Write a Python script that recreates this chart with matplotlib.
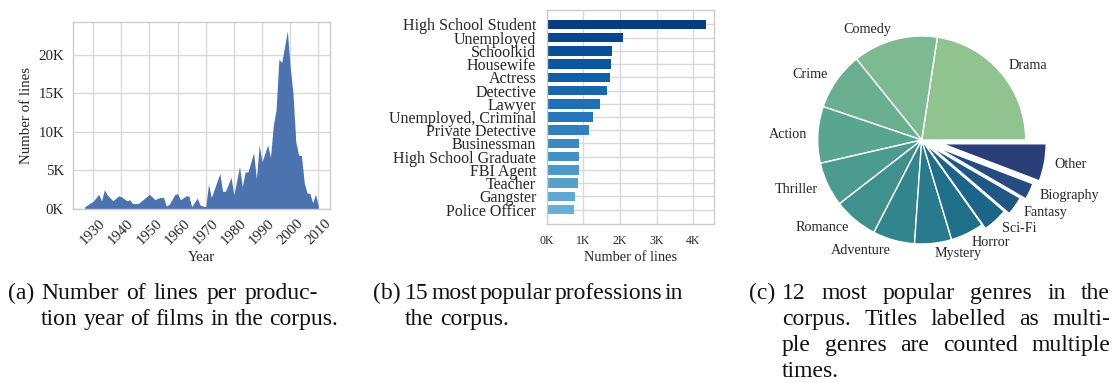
import numpy as np
import matplotlib
matplotlib.use("Agg")
import matplotlib.pyplot as plt
from matplotlib.ticker import FuncFormatter
import seaborn as sns

W, H = 1118, 383

# ---------------- data ----------------
years = [1927, 1930, 1932, 1933, 1934, 1935, 1937, 1939, 1940, 1942, 1943, 1944,
         1946, 1947, 1950, 1952, 1953, 1954, 1955, 1956, 1957, 1959, 1960, 1961,
         1963, 1964, 1965, 1967, 1968, 1970, 1971, 1972, 1975, 1976, 1977, 1979,
         1980, 1982, 1983, 1984, 1985, 1987, 1988, 1989, 1990, 1992, 1993, 1994,
         1995, 1996, 1997, 1999, 2000, 2001, 2002, 2003, 2004, 2005, 2006, 2007,
         2008, 2009, 2010]
lines_k = [0.3, 1.0, 1.9, 1.05, 2.5, 1.85, 1.05, 1.7, 1.6, 1.05, 1.2, 0.7,
           0.7, 1.0, 1.9, 1.2, 1.4, 1.5, 1.5, 0.4, 0.6, 1.85, 2.0, 1.2,
           1.7, 1.7, 0.3, 1.4, 0.5, 0.3, 3.2, 1.5, 4.6, 2.3, 2.3, 4.1,
           1.8, 5.5, 2.9, 4.8, 4.8, 7.3, 3.9, 8.3, 6.1, 8.3, 6.7, 10.8,
           12.9, 19.4, 19.0, 23.1, 18.4, 15.0, 8.7, 7.0, 6.9, 3.4, 2.1, 2.0,
           0.8, 1.9, 0.4]
year_ticks = [1930, 1940, 1950, 1960, 1970, 1980, 1990, 2000, 2010]

professions = ["High School Student", "Unemployed", "Schoolkid", "Housewife",
               "Actress", "Detective", "Lawyer", "Unemployed, Criminal",
               "Private Detective", "Businessman", "High School Graduate",
               "FBI Agent", "Teacher", "Gangster", "Police Officer"]
profession_lines_k = [4.35, 2.09, 1.77, 1.74, 1.72, 1.65, 1.45, 1.26,
                      1.16, 0.89, 0.87, 0.87, 0.85, 0.78, 0.75]

genres = ["Drama", "Comedy", "Crime", "Action", "Thriller", "Romance",
          "Adventure", "Mystery", "Horror", "Sci-Fi", "Fantasy", "Biography",
          "Other"]
genre_share = [22.6, 13.2, 9.0, 8.8, 6.9, 6.9, 6.5, 5.75, 5.2, 3.9, 2.9, 2.55, 5.8]
genre_explode = [0, 0, 0, 0, 0, 0, 0, 0, 0, 0.05, 0.10, 0.15, 0.20]

captions = [
    ("(a)", 8, 41, 318, ["Number of lines per produc-",
                         "tion year of films in the corpus."]),
    ("(b)", 373, 405, 683, ["15 most popular professions in",
                            "the corpus."]),
    ("(c)", 749, 782, 1110, ["12 most popular genres in the",
                             "corpus. Titles labelled as multi-",
                             "ple genres are counted multiple",
                             "times."]),
]

# ---------------- style ----------------
TXT = "#262626"
GRID = "#d9d9d9"
plt.rcParams.update({
    "font.family": ["Liberation Serif", "DejaVu Serif"],
    "text.color": TXT,
    "axes.labelcolor": TXT,
    "xtick.color": TXT,
    "ytick.color": TXT,
    "axes.edgecolor": "#cccccc",
    "axes.linewidth": 1.0,
    "grid.color": GRID,
    "grid.linewidth": 1.0,
})

fig = plt.figure(figsize=(W / 100, H / 100), dpi=100)


def px_axes(l, t, r, b):
    return fig.add_axes([l / W, 1 - b / H, (r - l) / W, (b - t) / H])


kfmt = FuncFormatter(lambda v, p: f"{v:.0f}K")

# ---------------- (a) area chart ----------------
ax1 = px_axes(73, 22, 330, 209)
ax1.fill_between(years, lines_k, color="#4c72b0", lw=0)
ax1.set_ylim(bottom=0)
ax1.set_xticks(year_ticks)
ax1.set_yticks([0, 5, 10, 15, 20])
ax1.yaxis.set_major_formatter(kfmt)
ax1.grid(True)
ax1.set_axisbelow(True)
ax1.tick_params(length=0, labelsize=10.7)
ax1.tick_params(axis="y", pad=6.5)
ax1.tick_params(axis="x", pad=5.5)
for lab in ax1.get_xticklabels():
    lab.set_rotation(45)
ax1.set_xlabel("Year", fontsize=10.7, labelpad=3)
ax1.set_ylabel("Number of lines", fontsize=10.7, labelpad=4)

# ---------------- (b) bar chart ----------------
ax2 = px_axes(546.7, 10, 714.3, 224)
n = len(professions)
bar_colors = plt.cm.Blues(np.linspace(0.95, 0.5, n))
ax2.barh(np.arange(n), profession_lines_k, height=0.72, color=bar_colors, lw=0)
ax2.set_yticks(np.arange(n))
ax2.set_yticklabels(professions)
ax2.invert_yaxis()
ax2.set_xticks([0, 1, 2, 3, 4])
ax2.xaxis.set_major_formatter(kfmt)
ax2.grid(True)
ax2.set_axisbelow(True)
ax2.tick_params(length=0)
ax2.tick_params(axis="y", labelsize=11.5, pad=7.5)
ax2.tick_params(axis="x", labelsize=8.5, pad=8)
ax2.set_xlabel("Number of lines", fontsize=10.4, labelpad=3)

# ---------------- (c) pie chart ----------------
R = 104
cx, cy = 921.7, 140
ax3 = px_axes(cx - 1.25 * R, cy - 1.25 * R, cx + 1.25 * R, cy + 1.25 * R)
pie_colors = sns.color_palette("crest", len(genres))
ax3.pie(genre_share, labels=genres, explode=genre_explode, colors=pie_colors,
        startangle=0, counterclock=True, labeldistance=1.1,
        wedgeprops=dict(edgecolor="white", linewidth=1.0),
        textprops=dict(fontsize=10.2, color=TXT))

# ---------------- captions ----------------
renderer = fig.canvas.get_renderer()
CAP_FS = 17
CAP_COLOR = "#111111"
LINE_H = 26
BASE0 = 299


def place_words(words, x0, x1, y, justify):
    objs = [fig.text(0, 1 - y / H, w, fontsize=CAP_FS, color=CAP_COLOR,
                     va="baseline", ha="left") for w in words]
    widths = [o.get_window_extent(renderer).width for o in objs]
    if justify and len(words) > 1:
        gap = (x1 - x0 - sum(widths)) / (len(words) - 1)
    else:
        sp = fig.text(0, 0, "a a", fontsize=CAP_FS)
        sp2 = fig.text(0, 0, "aa", fontsize=CAP_FS)
        gap = sp.get_window_extent(renderer).width - sp2.get_window_extent(renderer).width
        sp.remove()
        sp2.remove()
    x = x0
    for o, w in zip(objs, widths):
        o.set_x(x / W)
        x += w + gap


for tag, xt, x0, x1, lines in captions:
    fig.text(xt / W, 1 - BASE0 / H, tag, fontsize=CAP_FS, color=CAP_COLOR,
             va="baseline", ha="left")
    for i, line in enumerate(lines):
        justify = i < len(lines) - 1
        place_words(line.split(" "), x0, x1, BASE0 + i * LINE_H, justify)

fig.savefig("out.png", dpi=100)
